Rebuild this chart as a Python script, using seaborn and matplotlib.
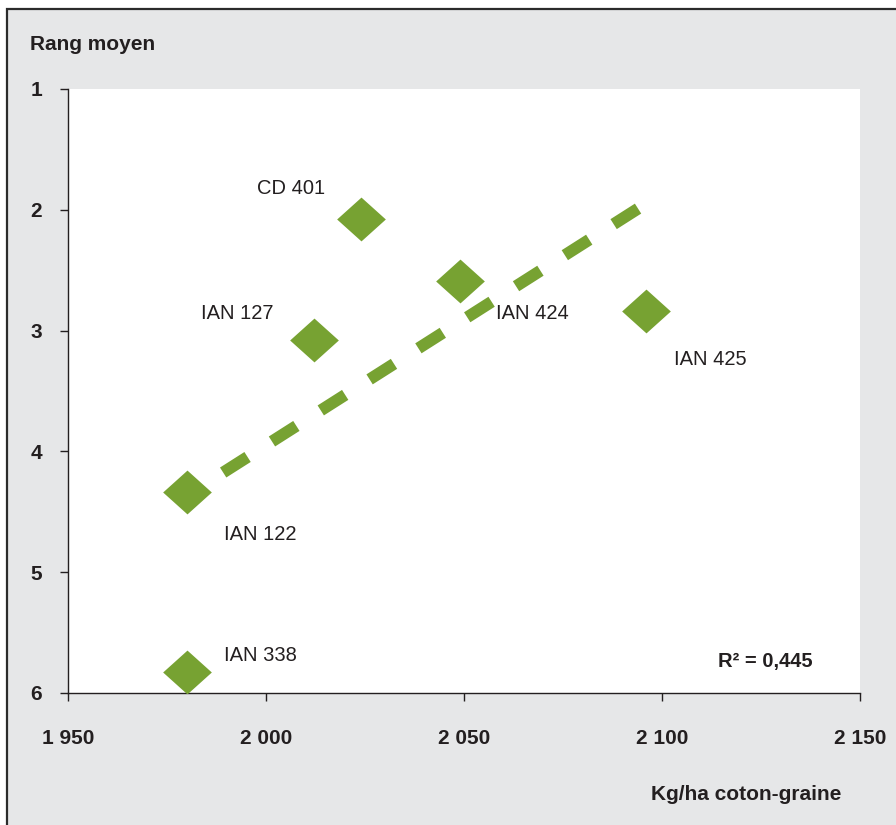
import numpy as np
import pandas as pd
import matplotlib
matplotlib.use("Agg")
import matplotlib.pyplot as plt
from matplotlib.patches import Rectangle
from matplotlib.path import Path
import seaborn as sns

# ---- data ----
varieties = ["CD 401", "IAN 424", "IAN 127", "IAN 425", "IAN 122", "IAN 338"]
yield_kg_ha = [2024, 2049, 2012, 2096, 1980, 1980]
mean_rank = [2.075, 2.59, 3.08, 2.84, 4.34, 5.83]
x_ticks = [1950, 2000, 2050, 2100, 2150]
x_tick_labels = ["1 950", "2 000", "2 050", "2 100", "2 150"]
y_ticks = [1, 2, 3, 4, 5, 6]
y_tick_labels = ["1", "2", "3", "4", "5", "6"]
# label offsets (points) relative to each marker: (dx to left edge, dy to text centre)
label_offsets = [(-75, 22), (26, -23), (-81, 19), (20, -35), (27, -30), (27, 12)]

df = pd.DataFrame({"variety": varieties, "kg": yield_kg_ha, "rank": mean_rank})

GREEN = "#77a232"
BG = "#e6e7e8"
TXT = "#231f20"

plt.rcParams["font.family"] = ["Liberation Sans", "DejaVu Sans"]

W, H = 896, 825
fig = plt.figure(figsize=(W / 100, H / 100), dpi=100, facecolor="white")

# grey panel with top/left frame line
fig.patches.append(Rectangle((7 / W, -0.1), 1.2, 1 - 9 / H + 0.1,
                             transform=fig.transFigure, facecolor=BG,
                             edgecolor="#2b2b2b", linewidth=1.6, zorder=-5))

ax = fig.add_axes([68 / W, 1 - 693 / H, (860 - 68) / W, (693 - 89) / H])
ax.set_zorder(2)
ax.set_facecolor("white")

diamond = Path([(-1, 0), (0, 0.9), (1, 0), (0, -0.9), (-1, 0)],
               [Path.MOVETO, Path.LINETO, Path.LINETO, Path.LINETO, Path.CLOSEPOLY])

sns.regplot(data=df, x="kg", y="rank", ax=ax, ci=None, marker=diamond,
            scatter_kws=dict(s=1230, color=GREEN, linewidths=0, alpha=1, zorder=3),
            line_kws=dict(color=GREEN, lw=8.5, linestyle=(1.25, (2.45, 2.45)),
                          dash_capstyle="butt", zorder=2))

ax.set_xlim(1950, 2150)
ax.set_ylim(6, 1)
ax.set_xticks(x_ticks)
ax.set_xticklabels(x_tick_labels)
ax.set_yticks(y_ticks)
ax.set_yticklabels(y_tick_labels)
ax.set_xlabel("")
ax.set_ylabel("")

for s in ["top", "right"]:
    ax.spines[s].set_visible(False)
for s in ["left", "bottom"]:
    ax.spines[s].set_color(TXT)
    ax.spines[s].set_linewidth(1.0)

ax.tick_params(axis="both", direction="out", length=5.8, width=1.0, color=TXT,
               labelcolor=TXT, labelsize=15)
ax.tick_params(axis="y", pad=13)
ax.tick_params(axis="x", pad=20)
for lab in ax.get_xticklabels() + ax.get_yticklabels():
    lab.set_fontweight("bold")

for name, xv, yv, (dx, dy) in zip(varieties, yield_kg_ha, mean_rank, label_offsets):
    ax.annotate(name, (xv, yv), xytext=(dx, dy), textcoords="offset points",
                ha="left", va="center", fontsize=14.5, color=TXT)

# R squared from the fitted regression
r = np.corrcoef(yield_kg_ha, mean_rank)[0, 1]
r2_text = "R² = " + f"{r**2:.3f}".replace(".", ",")
ax.text((718 - 68) / 792, 1 - (661 - 89) / 604, r2_text, transform=ax.transAxes,
        ha="left", va="center", fontsize=14.5, fontweight="bold", color=TXT)

fig.text(30 / W, 1 - 44 / H, "Rang moyen", ha="left", va="center",
         fontsize=15, fontweight="bold", color=TXT)
fig.text(841 / W, 1 - 795 / H, "Kg/ha coton-graine", ha="right", va="center",
         fontsize=15, fontweight="bold", color=TXT)

fig.savefig("out.png", dpi=100, facecolor=fig.get_facecolor())
